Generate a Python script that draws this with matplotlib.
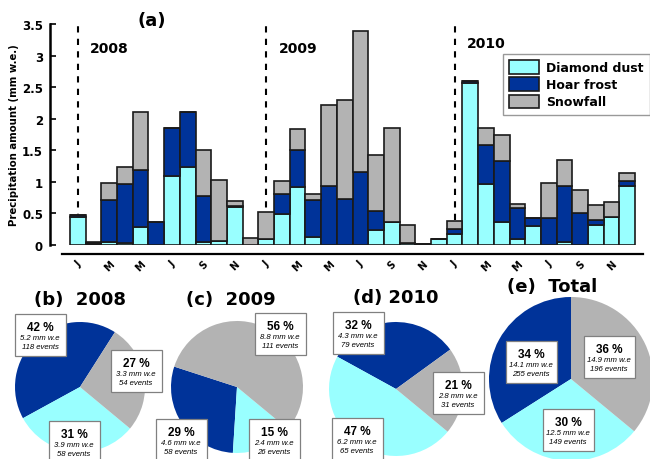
import numpy as np
import matplotlib
matplotlib.use("Agg")
import matplotlib.pyplot as plt
from matplotlib.patches import Rectangle

# monthly precipitation (mm w.e.), Jan 2008 .. Dec 2010
diamond_dust = [0.45, 0.01, 0.05, 0.03, 0.28, 0.00, 1.10, 1.23, 0.05, 0.07, 0.60, 0.00,
                0.09, 0.49, 0.92, 0.12, 0.00, 0.00, 0.00, 0.24, 0.37, 0.03, 0.01, 0.09,
                0.17, 2.57, 0.97, 0.37, 0.10, 0.30, 0.00, 0.04, 0.00, 0.32, 0.45, 0.93]
hoar_frost = [0.03, 0.02, 0.66, 0.94, 0.91, 0.37, 0.76, 0.87, 0.73, 0.00, 0.02, 0.00,
              0.00, 0.32, 0.58, 0.59, 0.94, 0.73, 1.15, 0.30, 0.00, 0.00, 0.00, 0.00,
              0.08, 0.03, 0.61, 0.96, 0.49, 0.13, 0.43, 0.90, 0.50, 0.08, 0.00, 0.09]
snowfall = [0.00, 0.01, 0.27, 0.27, 0.91, 0.00, 0.00, 0.00, 0.73, 0.96, 0.07, 0.11,
            0.44, 0.21, 0.34, 0.09, 1.27, 1.57, 2.24, 0.88, 1.48, 0.28, 0.00, 0.01,
            0.13, 0.00, 0.27, 0.42, 0.06, 0.00, 0.55, 0.41, 0.37, 0.24, 0.23, 0.12]
month_labels = ["J", "M", "M", "J", "S", "N"] * 3
years = ["2008", "2009", "2010"]

# pie panels: order hoar frost, diamond dust, snowfall
pie_titles = ["(b)  2008", "(c)  2009", "(d) 2010", "(e)  Total"]
pie_pct = [[42, 31, 27], [29, 15, 56], [32, 47, 21], [34, 30, 36]]
pie_mm = [["5.2", "3.9", "3.3"], ["4.6", "2.4", "8.8"],
          ["4.3", "6.2", "2.8"], ["14.1", "12.5", "14.9"]]
pie_events = [[118, 58, 54], [58, 26, 111], [79, 65, 31], [255, 149, 196]]

c_dd = "#99ffff"
c_hf = "#003399"
c_sf = "#b3b3b3"

fig = plt.figure(figsize=(6.5, 4.6), dpi=100)
W, H = 650, 460

# ---- (a) stacked bars
ax = fig.add_axes([50 / W, 214 / H, 593 / W, 221 / H])
# spines first: moving a spine resets the ticks
ax.spines["top"].set_visible(False)
ax.spines["right"].set_visible(False)
ax.spines["left"].set_linewidth(1.8)
ax.spines["bottom"].set_position(("outward", 6.5))
ax.spines["bottom"].set_bounds(-1.0, 36.0)
ax.spines["bottom"].set_linewidth(1.6)

x = np.arange(len(diamond_dust))
dd = np.array(diamond_dust)
hf = np.array(hoar_frost)
sf = np.array(snowfall)
kw = dict(width=1.0, edgecolor="#1a1a1a", linewidth=1.2, zorder=3)
ax.bar(x, dd, color=c_dd, label="Diamond dust", **kw)
ax.bar(x, hf, bottom=dd, color=c_hf, label="Hoar frost", **kw)
ax.bar(x, sf, bottom=dd + hf, color=c_sf, label="Snowfall", **kw)

for i, yr in enumerate(years):
    ax.axvline(12 * i, 0, 1, color="black", linestyle=(0, (3, 3)), linewidth=1.5, zorder=1)
    ax.text(12 * i + 0.8, 3.2 if i == 2 else 3.12, yr, fontsize=10, fontweight="bold",
            ha="left", va="center")
ax.text(4.7, 3.57, "(a)", fontsize=13, fontweight="bold", ha="center", va="center",
        clip_on=False)

ax.set_xlim(-1.77, 36.0)
ax.set_ylim(0, 3.5)
ax.tick_params(axis="y", direction="in", length=4, width=1.2, pad=5)
ax.tick_params(axis="x", length=0, pad=3, labelrotation=45)
ax.set_yticks(np.arange(0, 3.51, 0.5))
ax.set_yticklabels(["0", "0.5", "1", "1.5", "2", "2.5", "3", "3.5"],
                   fontsize=8.5, fontweight="bold")
ax.set_xticks(x[::2])
ax.set_xticklabels(month_labels, fontsize=7, fontweight="bold", rotation=45)
ax.set_ylabel("Precipitation amount (mm w.e.)", fontsize=7.3, fontweight="bold", labelpad=2)

leg = ax.legend(loc="upper right", bbox_to_anchor=(1.0, 1 - 55 / H),
                bbox_transform=fig.transFigure, prop=dict(size=9, weight="bold"),
                fancybox=False, edgecolor="#808080", handlelength=2.4, handleheight=1.3,
                borderpad=0.5, labelspacing=0.25, handletextpad=0.6, borderaxespad=0)
leg.get_frame().set_linewidth(1.0)

# ---- pies, drawn in a pixel-sized axes over the whole figure
pax = fig.add_axes([0, 0, 1, 1])
centers = [(80, 388), (237, 388), (396, 390), (571, 380)]
radii = [65, 66, 67, 82]
starts = [57.5, 162, 36, 90]
title_pos = [(80, 300), (231, 300), (396, 298), (552, 287)]
box_pos = [[(40, 336), (74, 443), (136, 372)],
           [(181, 441), (274, 441), (280, 335)],
           [(358, 334), (357, 440), (458, 394)],
           [(531, 363), (568, 431), (609, 358)]]

for k in range(4):
    cx, cy = centers[k]
    pax.pie(pie_pct[k], colors=[c_hf, c_dd, c_sf], startangle=starts[k],
            counterclock=True, center=(cx, H - cy), radius=radii[k],
            wedgeprops=dict(linewidth=0))
    tx, ty = title_pos[k]
    pax.text(tx, H - ty, pie_titles[k], fontsize=13, fontweight="bold",
             ha="center", va="center")
    for j in range(3):
        bx, by = box_pos[k][j]
        by = H - by
        pax.add_patch(Rectangle((bx - 25.5, by - 21), 51, 42, facecolor="white",
                                edgecolor="#808080", linewidth=0.9, zorder=5))
        pax.text(bx, by + 8, f"{pie_pct[k][j]} %", fontsize=8.5, fontweight="bold",
                 family="Liberation Sans", ha="center", va="center", zorder=6)
        pax.text(bx, by - 3, f"{pie_mm[k][j]} mm w.e", fontsize=5.6, style="italic",
                 family="Liberation Sans", ha="center", va="center", zorder=6)
        pax.text(bx, by - 12, f"{pie_events[k][j]} events", fontsize=5.6, style="italic",
                 family="Liberation Sans", ha="center", va="center", zorder=6)

pax.set_xlim(0, W)
pax.set_ylim(0, H)
pax.set_aspect("auto")
pax.axis("off")

fig.savefig("out.png", dpi=100)
